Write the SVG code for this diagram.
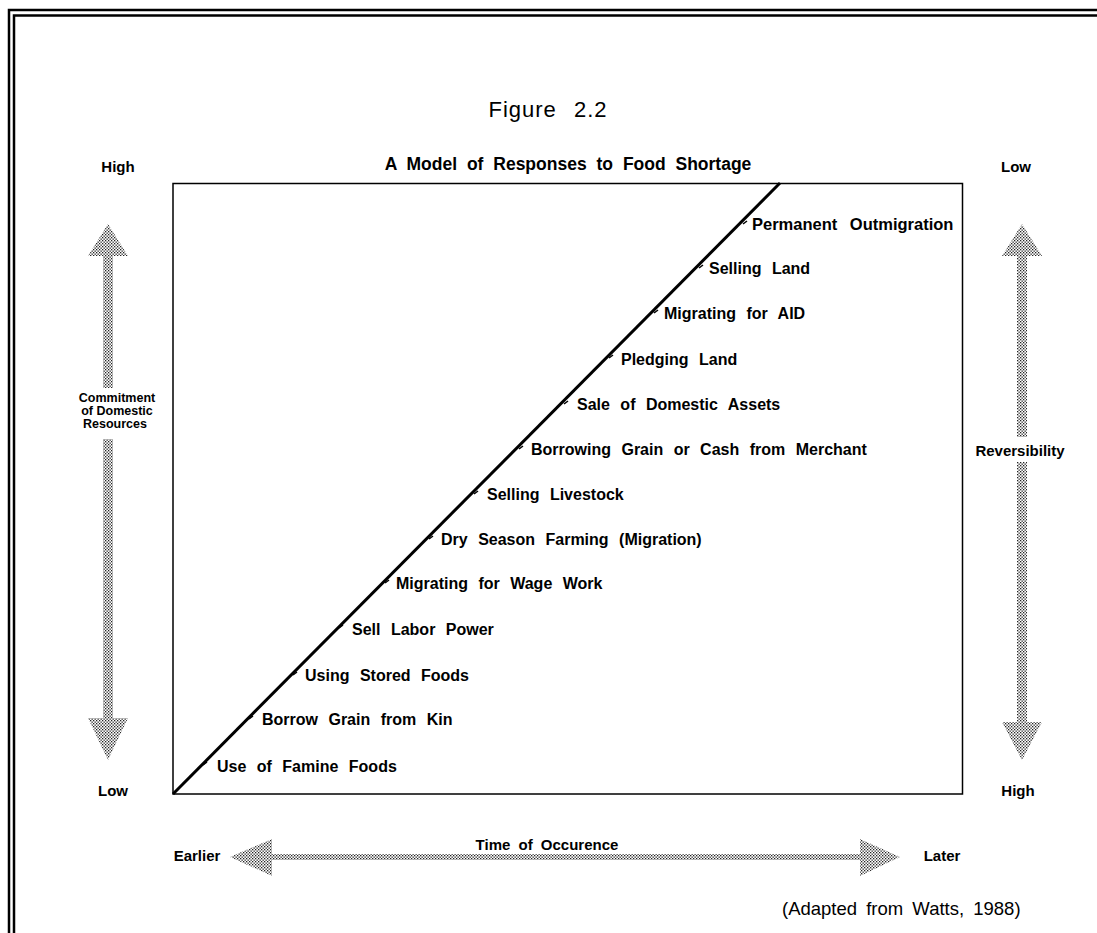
<svg xmlns="http://www.w3.org/2000/svg" width="1097" height="933" viewBox="0 0 1097 933">
  <defs>
    <!-- halftone screen used to fill the axis arrows -->
    <pattern id="dots" width="3" height="3" patternUnits="userSpaceOnUse">
      <rect width="3" height="3" fill="#fff"/>
      <rect x="0" y="0" width="1.3" height="1.3" fill="#222"/>
      <rect x="1.5" y="1.5" width="1.3" height="1.3" fill="#222"/>
    </pattern>
  </defs>
  <style>
    .lbl { font-family: "Liberation Sans", Arial, sans-serif; font-weight: bold; font-size: 16px; word-spacing: 6px; fill: #000; }
    .ax { font-family: "Liberation Sans", Arial, sans-serif; font-weight: bold; font-size: 15px; word-spacing: 4px; fill: #000; }
    .res { font-family: "Liberation Sans", Arial, sans-serif; font-weight: bold; font-size: 12.5px; fill: #000; }
    .reg { font-family: "Liberation Sans", Arial, sans-serif; font-size: 20px; fill: #000; }
    .arrow { fill: url(#dots); stroke: none; }
    .tick { stroke: #000; stroke-width: 1.5; }
  </style>

  <rect width="1097" height="933" fill="#fff"/>

  <!-- double page frame -->
  <g id="frame" fill="none" stroke="#000">
    <polyline points="9,933 9,10 1097,10" stroke-width="2.5"/>
    <polyline points="14,933 14,15.5 1097,15.5" stroke-width="2.5"/>
  </g>

  <!-- titles -->
  <g id="titles">
    <text class="reg" x="548" y="117" text-anchor="middle" style="font-size:22px; letter-spacing:1px; word-spacing:10px">Figure 2.2</text>
    <text class="lbl" x="568" y="170" text-anchor="middle" style="font-size:17.5px; word-spacing:5px">A Model of Responses to Food Shortage</text>
  </g>

  <!-- plot box -->
  <g id="plot-box">
    <rect x="173" y="183.5" width="789.5" height="610.5" fill="none" stroke="#000" stroke-width="1.5"/>
  </g>

  <!-- diagonal response line with tick marks -->
  <g id="connectors">
    <line x1="173" y1="794" x2="780" y2="183" stroke="#000" stroke-width="3"/>
    <line class="tick" x1="203" y1="765" x2="207" y2="762"/>
    <line class="tick" x1="249" y1="719" x2="253" y2="716"/>
    <line class="tick" x1="293" y1="675" x2="297" y2="672"/>
    <line class="tick" x1="339" y1="628" x2="343" y2="625"/>
    <line class="tick" x1="385" y1="583" x2="389" y2="580"/>
    <line class="tick" x1="429" y1="539" x2="433" y2="536"/>
    <line class="tick" x1="474" y1="494" x2="478" y2="491"/>
    <line class="tick" x1="519" y1="449" x2="523" y2="446"/>
    <line class="tick" x1="564" y1="404" x2="568" y2="401"/>
    <line class="tick" x1="609" y1="358" x2="613" y2="355"/>
    <line class="tick" x1="654" y1="313" x2="658" y2="310"/>
    <line class="tick" x1="699" y1="268" x2="703" y2="265"/>
    <line class="tick" x1="743" y1="224" x2="747" y2="221"/>
  </g>

  <!-- response labels along the line -->
  <g id="n-famine"><text class="lbl" x="217" y="772">Use of Famine Foods</text></g>
  <g id="n-borrow-kin"><text class="lbl" x="262" y="725">Borrow Grain from Kin</text></g>
  <g id="n-stored"><text class="lbl" x="305" y="681">Using Stored Foods</text></g>
  <g id="n-labor"><text class="lbl" x="352" y="635">Sell Labor Power</text></g>
  <g id="n-wage"><text class="lbl" x="396" y="589">Migrating for Wage Work</text></g>
  <g id="n-dry"><text class="lbl" x="441" y="545">Dry Season Farming (Migration)</text></g>
  <g id="n-livestock"><text class="lbl" x="487" y="500">Selling Livestock</text></g>
  <g id="n-merchant"><text class="lbl" x="531" y="455">Borrowing Grain or Cash from Merchant</text></g>
  <g id="n-assets"><text class="lbl" x="577" y="410">Sale of Domestic Assets</text></g>
  <g id="n-pledge"><text class="lbl" x="621" y="365">Pledging Land</text></g>
  <g id="n-aid"><text class="lbl" x="664" y="319">Migrating for AID</text></g>
  <g id="n-land"><text class="lbl" x="709" y="274">Selling Land</text></g>
  <g id="n-outmig"><text class="lbl" x="752" y="230" style="font-size:16.5px; word-spacing:8px">Permanent Outmigration</text></g>

  <!-- left axis: commitment of domestic resources -->
  <g id="axis-left">
    <path class="arrow" d="M108,224 L128,256 L113,256 L113,388 L103,388 L103,256 L88,256 Z"/>
    <path class="arrow" d="M103,439 L113,439 L113,718 L128,718 L108,760 L88,718 L103,718 Z"/>
    <text class="ax" x="118" y="172" text-anchor="middle">High</text>
    <text class="ax" x="113" y="796" text-anchor="middle">Low</text>
    <text class="res" x="117" y="402" text-anchor="middle">Commitment</text>
    <text class="res" x="117" y="415" text-anchor="middle">of Domestic</text>
    <text class="res" x="115" y="428" text-anchor="middle">Resources</text>
  </g>

  <!-- right axis: reversibility -->
  <g id="axis-right">
    <path class="arrow" d="M1022,224 L1042,256 L1027,256 L1027,437 L1017,437 L1017,256 L1002,256 Z"/>
    <path class="arrow" d="M1017,462 L1027,462 L1027,722 L1042,722 L1022,760 L1002,722 L1017,722 Z"/>
    <text class="ax" x="1016" y="172" text-anchor="middle">Low</text>
    <text class="ax" x="1018" y="796" text-anchor="middle">High</text>
    <text class="ax" x="1020" y="456" text-anchor="middle">Reversibility</text>
  </g>

  <!-- bottom axis: time of occurrence -->
  <g id="axis-bottom">
    <path class="arrow" d="M230,857 L272,839 L272,854 L860,854 L860,839 L900,857 L860,876 L860,860 L272,860 L272,876 Z"/>
    <text class="ax" x="197" y="861" text-anchor="middle">Earlier</text>
    <text class="ax" x="942" y="861" text-anchor="middle">Later</text>
    <text class="ax" x="547" y="850" text-anchor="middle">Time of Occurence</text>
  </g>

  <!-- source note -->
  <g id="source">
    <text class="reg" x="782" y="915" style="font-size:18.5px; word-spacing:4px">(Adapted from Watts, 1988)</text>
  </g>
</svg>
